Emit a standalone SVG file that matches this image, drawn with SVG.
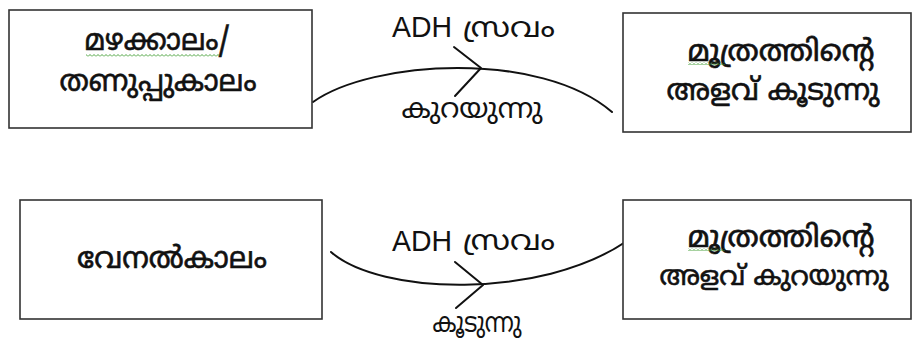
<svg xmlns="http://www.w3.org/2000/svg" width="917" height="346" viewBox="0 0 917 346">
  <style>
    .box { fill: #ffffff; stroke: #333333; stroke-width: 1.6; }
    .ml { font-family: "Noto Sans Malayalam", "Noto Sans", "DejaVu Sans", sans-serif; fill: #111111; text-anchor: middle; }
    .node { font-size: 30px; stroke: #111111; stroke-width: 0.6; }
    .node.small { font-size: 27px; }
    .tag { font-size: 28px; }
    .lat { font-family: "Liberation Sans", Arial, sans-serif; font-size: 30px; fill: #111111; }
    .flow { fill: none; stroke: #111111; stroke-width: 2; stroke-linecap: round; stroke-linejoin: round; }
  </style>
  <defs>
    <!-- spell-check style wavy underline -->
    <pattern id="squiggle" width="4" height="3" patternUnits="userSpaceOnUse">
      <polyline points="0,2.5 2,0.5 4,2.5" fill="none" stroke="#3a9a2a" stroke-width="0.9"/>
    </pattern>
  </defs>
  <rect width="917" height="346" fill="#ffffff"/>

  <!-- connectors -->
  <g id="connectors">
    <path class="flow" d="M313,102 C372,60 540,50 612,112"/>
    <polyline class="flow" points="454,47 481,68 455,96"/>
    <path class="flow" d="M331,252 C380,295 540,300 627,241"/>
    <polyline class="flow" points="455,262 483,285 456,308"/>
  </g>

  <g id="rain-winter">
    <rect class="box" x="9" y="10" width="303" height="118"/>
    <text class="ml node" x="157" y="50" textLength="145" lengthAdjust="spacingAndGlyphs">മഴക്കാലം/</text>
    <rect x="86" y="54" width="133" height="3" fill="url(#squiggle)"/>
    <text class="ml node" x="158" y="91" textLength="197" lengthAdjust="spacingAndGlyphs">തണുപ്പുകാലം</text>
  </g>

  <g id="urine-up">
    <rect class="box" x="623" y="13" width="288" height="119"/>
    <text class="ml node" x="781" y="61" textLength="187" lengthAdjust="spacingAndGlyphs">മൂത്രത്തിന്റെ</text>
    <rect x="688" y="62" width="37" height="3" fill="url(#squiggle)"/>
    <text class="ml node" x="773" y="100" textLength="213" lengthAdjust="spacingAndGlyphs">അളവ് കൂടുന്നു</text>
  </g>

  <g id="summer">
    <rect class="box" x="20" y="200" width="302" height="119"/>
    <text class="ml node" x="172" y="268" textLength="190" lengthAdjust="spacingAndGlyphs">വേനൽകാലം</text>
  </g>

  <g id="urine-down">
    <rect class="box" x="623" y="200" width="288" height="119"/>
    <text class="ml node" x="781" y="247" textLength="187" lengthAdjust="spacingAndGlyphs">മൂത്രത്തിന്റെ</text>
    <rect x="688" y="248" width="37" height="3" fill="url(#squiggle)"/>
    <text class="ml node small" x="774" y="285">അളവ് കുറയുന്നു</text>
  </g>

  <g id="label-top">
    <text class="lat" x="392" y="37" textLength="60" lengthAdjust="spacingAndGlyphs">ADH</text>
    <text class="ml tag" x="509" y="37" textLength="92" lengthAdjust="spacingAndGlyphs">സ്രവം</text>
    <text class="ml tag" x="472" y="118" textLength="141" lengthAdjust="spacingAndGlyphs">കുറയുന്നു</text>
  </g>

  <g id="label-bottom">
    <text class="lat" x="392" y="251" textLength="60" lengthAdjust="spacingAndGlyphs">ADH</text>
    <text class="ml tag" x="509" y="250" textLength="92" lengthAdjust="spacingAndGlyphs">സ്രവം</text>
    <text class="ml tag" x="477" y="332" textLength="89" lengthAdjust="spacingAndGlyphs">കൂടുന്നു</text>
  </g>
</svg>
